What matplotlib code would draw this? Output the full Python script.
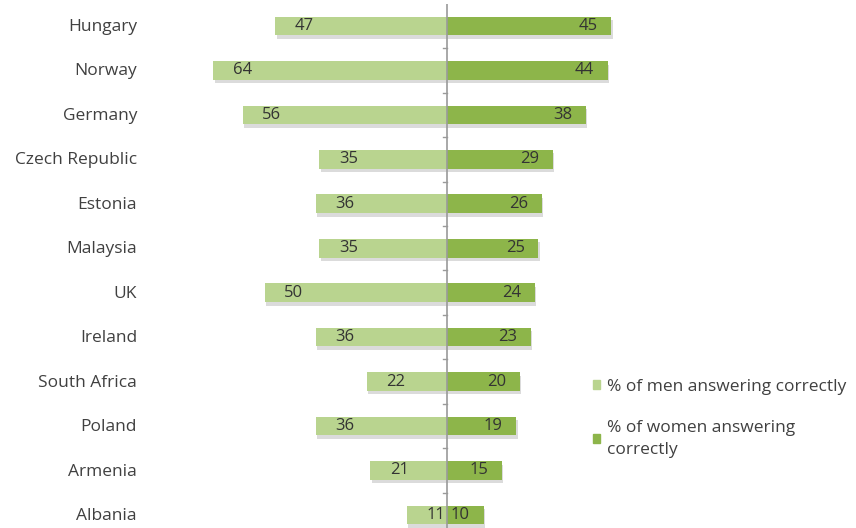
import matplotlib.pyplot as plt
import matplotlib.patheffects as pe
from matplotlib.patches import Patch
import numpy as np

plt.rcParams['font.family'] = ['Open Sans', 'DejaVu Sans']

# share of respondents answering correctly, by country
countries = ["Hungary", "Norway", "Germany", "Czech Republic", "Estonia", "Malaysia",
             "UK", "Ireland", "South Africa", "Poland", "Armenia", "Albania"]
men = [47, 64, 56, 35, 36, 35, 50, 36, 22, 36, 21, 11]
women = [45, 44, 38, 29, 26, 25, 24, 23, 20, 19, 15, 10]

men_col = "#b9d48f"
women_col = "#8db54a"
txt_col = "#404040"

fig = plt.figure(figsize=(8.56, 5.28), dpi=100)
W, H = 856, 528
px = 3.65          # pixels per percentage point
cx = 447           # centre line
left_px, right_px = 205, 660
row = 44.45
top_px = 26 - row / 2
ax = fig.add_axes([left_px / W, 1 - (top_px + 12 * row) / H,
                   (right_px - left_px) / W, 12 * row / H])
ax.set_xlim(-(cx - left_px) / px, (right_px - cx) / px)
ax.set_ylim(11.5, -0.5)

y = np.arange(len(countries))
shadow = [pe.SimplePatchShadow(offset=(1, -2.5), shadow_rgbFace="#b0b0b0", alpha=0.45), pe.Normal()]
bh = 0.42
ax.barh(y, [-v for v in men], height=bh, color=men_col, path_effects=shadow, zorder=2)
ax.barh(y, women, height=bh, color=women_col, path_effects=shadow, zorder=2)

for i, (m, w) in enumerate(zip(men, women)):
    ax.text(-m + 8, i, str(m), ha="center", va="center", fontsize=12, color="#333333", zorder=4)
    ax.text(w - 6.3, i, str(w), ha="center", va="center", fontsize=12, color="#333333", zorder=4)

# central axis with small ticks between categories
ax.axvline(0, color="#9a9a9a", lw=1.2, zorder=3)
for b in np.arange(0.5, 11.5, 1):
    ax.plot([-1.1, 0], [b, b], color="#9a9a9a", lw=1.0, zorder=3)

for s in ax.spines.values():
    s.set_visible(False)
ax.set_xticks([])
ax.set_yticks([])

# country names, right-aligned in the left margin
for i, c in enumerate(countries):
    fig.text(137 / W, 1 - (27 + i * row) / H, c, ha="right", va="center",
             fontsize=12.5, color=txt_col)

handles = [Patch(color=men_col), Patch(color=women_col)]
labels = ["% of men answering correctly", "% of women answering\ncorrectly"]
leg = fig.legend(handles, labels, loc="upper left", bbox_to_anchor=(577 / W, 1 - 363 / H),
                 frameon=False, fontsize=12.5, handlelength=0.45, handleheight=0.45,
                 handletextpad=0.35, labelspacing=1.45, labelcolor=txt_col)
for t in leg.get_texts():
    t.set_linespacing(1.5)

fig.savefig("out.png", dpi=100)
